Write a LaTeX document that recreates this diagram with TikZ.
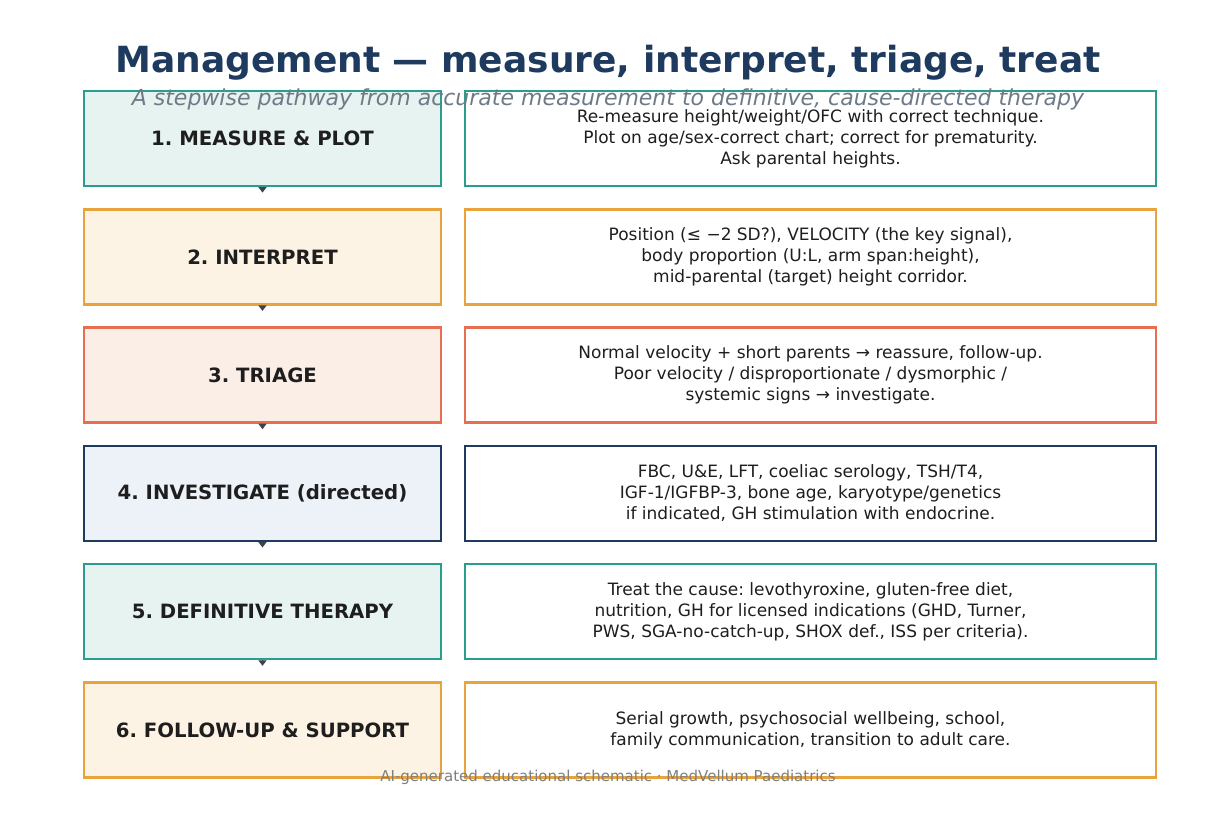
\documentclass[tikz,border=0pt]{standalone}
\usepackage{fontspec}
\setmainfont{DejaVu Sans}
\usetikzlibrary{arrows.meta}
\definecolor{teal}{HTML}{2A9D8F}
\definecolor{tealfill}{HTML}{E7F3F1}
\definecolor{orng}{HTML}{E8A33D}
\definecolor{orngfill}{HTML}{FDF3E4}
\definecolor{redo}{HTML}{E76F51}
\definecolor{redofill}{HTML}{FBEEE6}
\definecolor{navy}{HTML}{1F3A5F}
\definecolor{navyfill}{HTML}{EDF2F9}
\definecolor{txt}{HTML}{1E1E1E}
\definecolor{subgray}{HTML}{6E7B87}
\definecolor{footgray}{HTML}{7F7F7F}
\definecolor{arrdark}{HTML}{3A4450}
\tikzset{
  lbox/.style={draw=#1, fill=#1fill, line width=2.4pt, minimum width=357pt, minimum height=95pt, inner sep=0pt,
    font=\fontsize{19.7}{24}\selectfont\bfseries, text=txt},
  rbox/.style={draw=#1, fill=white, line width=2.4pt, minimum width=691pt, minimum height=95pt, inner sep=0pt,
    font=\fontsize{17}{21}\selectfont, text=txt, align=center},
  flowarr/.style={draw=arrdark, line width=1.8pt, -{Triangle[width=8pt,length=5.5pt]}, shorten >=15.5pt}
}
\begin{document}
\frenchspacing
\begin{tikzpicture}[x=1pt,y=-1pt]
\useasboundingbox (0,0) rectangle (1216,814);
\fill[white] (0,0) rectangle (1216,814);
% boxes
\node[lbox=teal] (l1) at (262.5,138.5) {1. MEASURE \& PLOT};
\node[rbox=teal] (r1) at (810.5,138.5) {Re-measure height/weight/OFC with correct technique.\\Plot on age/sex-correct chart; correct for prematurity.\\Ask parental heights.};
\node[lbox=orng] (l2) at (262.5,256.8) {2. INTERPRET};
\node[rbox=orng] (r2) at (810.5,256.8) {Position (≤ −2 SD?), VELOCITY (the key signal),\\body proportion (U:L, arm span:height),\\mid-parental (target) height corridor.};
\node[lbox=redo] (l3) at (262.5,375.1) {3. TRIAGE};
\node[rbox=redo] (r3) at (810.5,375.1) {Normal velocity + short parents → reassure, follow-up.\\Poor velocity / disproportionate / dysmorphic /\\systemic signs → investigate.};
\node[lbox=navy] (l4) at (262.5,493.4) {4. INVESTIGATE (directed)};
\node[rbox=navy] (r4) at (810.5,493.4) {FBC, U\&E, LFT, coeliac serology, TSH/T4,\\IGF-1/IGFBP-3, bone age, karyotype/genetics\\if indicated, GH stimulation with endocrine.};
\node[lbox=teal] (l5) at (262.5,611.7) {5. DEFINITIVE THERAPY};
\node[rbox=teal] (r5) at (810.5,611.7) {Treat the cause: levothyroxine, gluten-free diet,\\nutrition, GH for licensed indications (GHD, Turner,\\PWS, SGA-no-catch-up, SHOX def., ISS per criteria).};
\node[lbox=orng] (l6) at (262.5,730) {6. FOLLOW-UP \& SUPPORT};
\node[rbox=orng] (r6) at (810.5,730) {Serial growth, psychosocial wellbeing, school,\\family communication, transition to adult care.};
% arrows
\draw[flowarr] (l1.south) -- (l2.north);
\draw[flowarr] (l2.south) -- (l3.north);
\draw[flowarr] (l3.south) -- (l4.north);
\draw[flowarr] (l4.south) -- (l5.north);
\draw[flowarr] (l5.south) -- (l6.north);
% title texts
\node[font=\fontsize{36}{42}\selectfont\bfseries, text=navy, anchor=base] (title) at (608,72) {Management — measure, interpret, triage, treat};
\node[font=\fontsize{22}{26}\selectfont\itshape, text=subgray, anchor=base] (sub) at (608,105) {A stepwise pathway from accurate measurement to definitive, cause-directed therapy};
\node[font=\fontsize{15}{18}\selectfont, text=footgray, anchor=base] (foot) at (608,781) {AI-generated educational schematic · MedVellum Paediatrics};
\end{tikzpicture}
\end{document}
